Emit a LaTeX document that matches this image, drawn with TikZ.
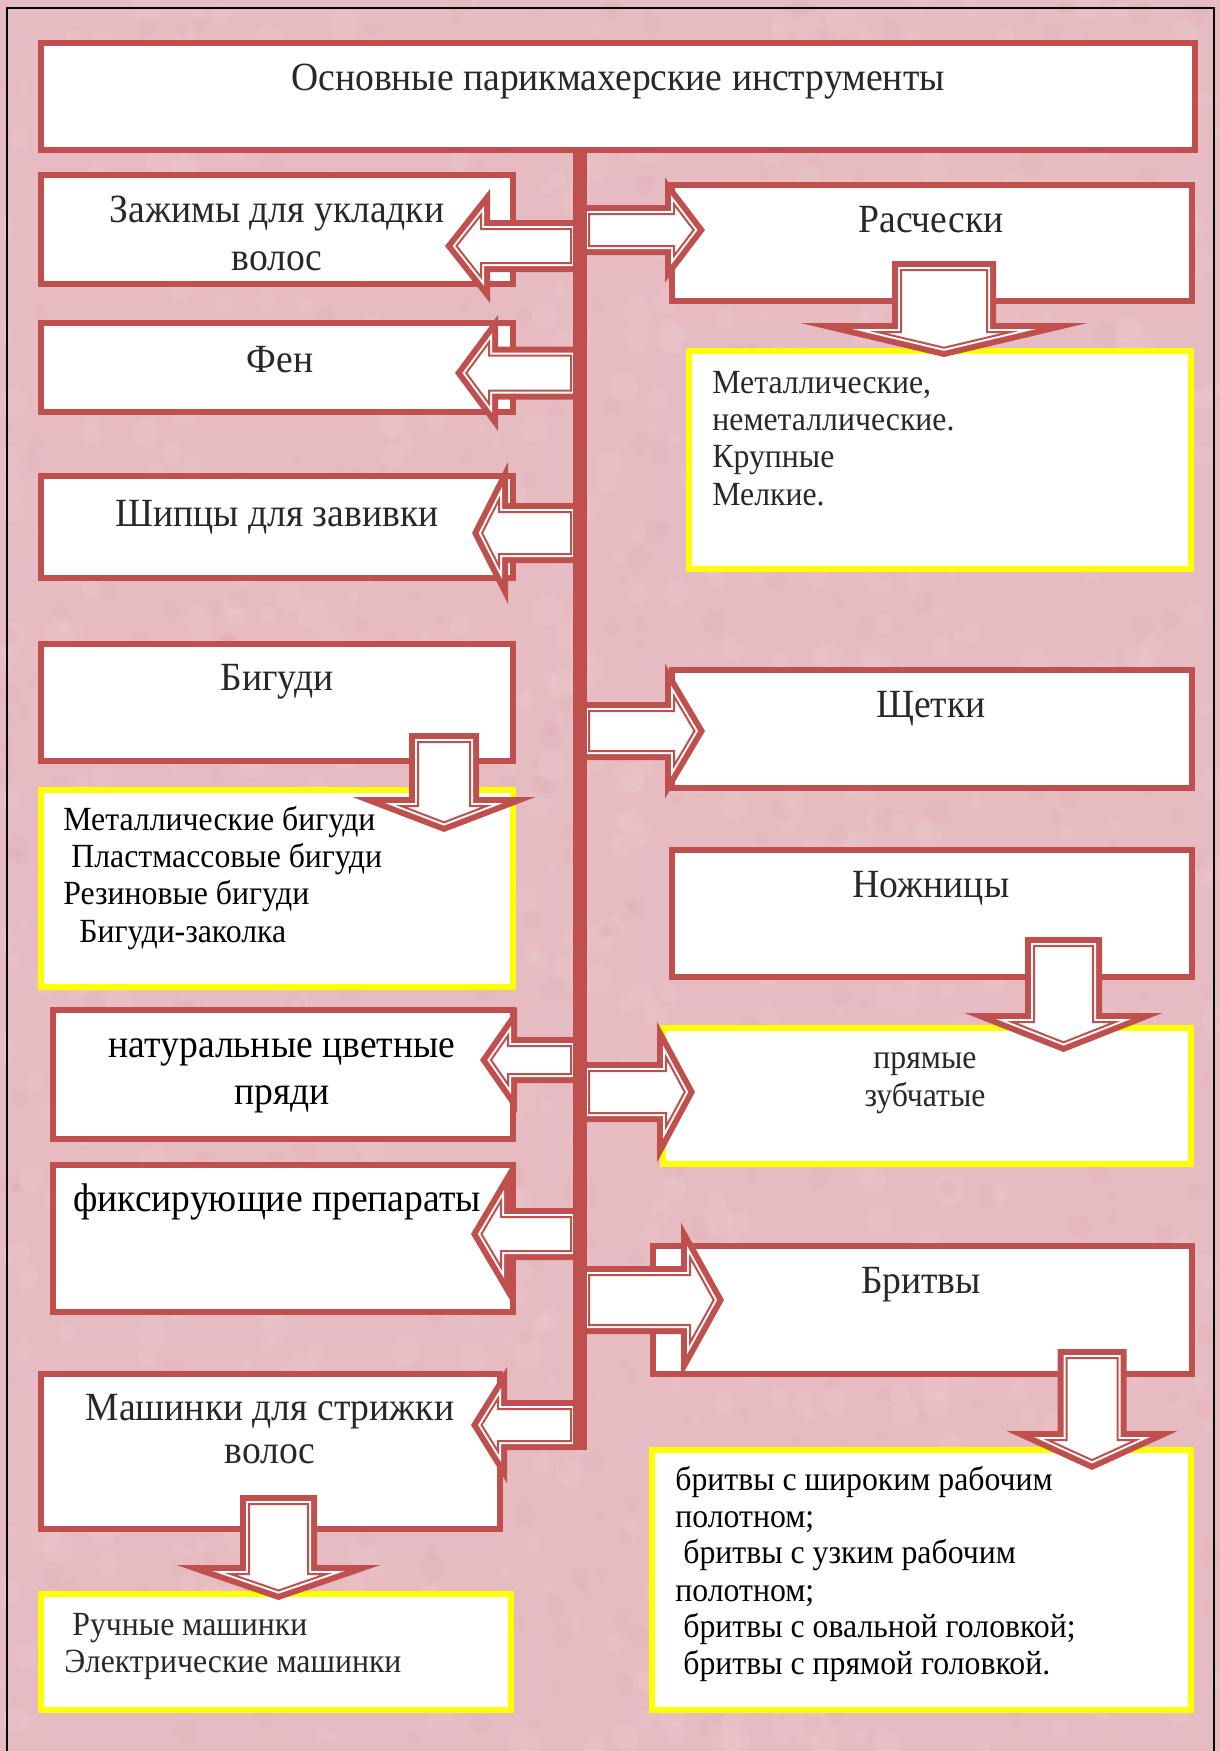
\documentclass[tikz,border=0pt]{standalone}
\usepackage{fontspec}
\setmainfont{Liberation Serif}[FakeStretch=0.94]
\definecolor{bred}{RGB}{192,80,77}
\definecolor{bgpink}{RGB}{230,188,194}
\definecolor{txtgray}{RGB}{40,40,40}
\definecolor{byellow}{RGB}{255,255,0}
\tikzset{
  redbox/.style={draw=bred, fill=white, line width=3pt, inner sep=0pt, outer sep=0pt},
  yelbox/.style={draw=byellow, fill=white, line width=3pt, inner sep=0pt, outer sep=0pt},
  txt/.style={font=\fontsize{20}{24}\selectfont, text=txtgray, inner sep=0pt, anchor=base},
  txtb/.style={txt, text=black},
  lst/.style={font=\fontsize{16.9}{20}\selectfont, text=txtgray, inner sep=0pt, anchor=base west},
  lstb/.style={lst, text=black},
  lstc/.style={lst, anchor=base},
}
% box: name, style, x1, y1, x2, y2 (outer edges, pixels)
\newcommand\RBox[6]{%
  \pgfmathsetmacro\bw{(#5-#3-6)*0.5}%
  \pgfmathsetmacro\bh{(#6-#4-6)*0.5}%
  \node[#2, minimum width=\bw pt, minimum height=\bh pt] (#1) at ({(#3+#5)/2},{(#4+#6)/2}) {};}
% horizontal block arrow path: T N P C s h d sign
\newcommand\HAcalc[8]{%
  \pgfmathsetmacro\qL{abs((#3)-(#2))}%
  \pgfmathsetmacro\qS{((#6)/100)/sqrt(((#6)/100)^2+(\qL/100)^2)}%
  \pgfmathsetmacro\qh{(#6)*(1-(#7)/\qL-(#7)/(\qL*\qS))}%
  \pgfmathsetmacro\qx{(#2)+(#8)*(#7)}%
  \pgfmathsetmacro\qtip{(#3)-(#8)*(#7)/\qS}%
  \pgfmathsetmacro\qT{(#1)+(#8)*(#7)}%
  \pgfmathsetmacro\qya{(#4)-(#5)+(#7)}%
  \pgfmathsetmacro\qyb{(#4)+(#5)-(#7)}%
  \pgfmathsetmacro\qyc{(#4)-\qh}%
  \pgfmathsetmacro\qyd{(#4)+\qh}%
  \edef\APath{(\qT,\qya) -- (\qx,\qya) -- (\qx,\qyc) -- (\qtip,#4) -- (\qx,\qyd) -- (\qx,\qyb) -- (\qT,\qyb) -- cycle}%
}
\newcommand\HArrow[7]{%
  \HAcalc{#1}{#2}{#3}{#4}{#5}{#6}{0}{#7}\fill[bred] \APath;
  \HAcalc{#1}{#2}{#3}{#4}{#5}{#6}{6}{#7}\fill[white] \APath;
  \HAcalc{#1}{#2}{#3}{#4}{#5}{#6}{9}{#7}\draw[bred, line width=1pt, line join=miter] \APath;
}
% vertical (down) block arrow path: xm w W t Hb ty d
\newcommand\VAcalc[7]{%
  \pgfmathsetmacro\qD{(#6)-(#5)}%
  \pgfmathsetmacro\qS{((#3)/100)/sqrt(((#3)/100)^2+(\qD/100)^2)}%
  \pgfmathsetmacro\qW{(#3)*(1-(#7)/\qD-(#7)/(\qD*\qS))}%
  \pgfmathsetmacro\qa{(#1)-(#2)+(#7)}%
  \pgfmathsetmacro\qb{(#1)+(#2)-(#7)}%
  \pgfmathsetmacro\qt{(#4)+(#7)}%
  \pgfmathsetmacro\qH{(#5)+(#7)}%
  \pgfmathsetmacro\qty{(#6)-(#7)/\qS}%
  \pgfmathsetmacro\qLL{(#1)-\qW}%
  \pgfmathsetmacro\qRR{(#1)+\qW}%
  \edef\APath{(\qa,\qt) -- (\qb,\qt) -- (\qb,\qH) -- (\qRR,\qH) -- (#1,\qty) -- (\qLL,\qH) -- (\qa,\qH) -- cycle}%
}
\newcommand\VArrow[6]{%
  \VAcalc{#1}{#2}{#3}{#4}{#5}{#6}{0}\fill[bred] \APath;
  \VAcalc{#1}{#2}{#3}{#4}{#5}{#6}{6}\fill[white] \APath;
  \VAcalc{#1}{#2}{#3}{#4}{#5}{#6}{9}\draw[bred, line width=1pt, line join=miter] \APath;
}
\begin{document}
\begin{tikzpicture}[x=0.5pt,y=-0.5pt]
\useasboundingbox (0,0) rectangle (1220,1751);
\fill[bgpink] (0,0) rectangle (1220,1751);
% subtle mottled background texture
\pgfmathsetseed{7}
\begin{scope}
\clip (0,0) rectangle (1220,1751);
\foreach \i in {1,...,900}{%
  \pgfmathsetmacro\rx{rnd*1220}\pgfmathsetmacro\ry{rnd*1751}\pgfmathsetmacro\rr{4+rnd*12}%
  \fill[white, opacity=0.05] (\rx,\ry) circle[radius=\rr];}
\foreach \i in {1,...,600}{%
  \pgfmathsetmacro\rx{rnd*1220}\pgfmathsetmacro\ry{rnd*1751}\pgfmathsetmacro\rr{3+rnd*9}%
  \fill[bred, opacity=0.035] (\rx,\ry) circle[radius=\rr];}
\end{scope}
\draw[line width=1.2pt] (7,1751) -- (7,8) -- (1214,8) -- (1214,1751);

% boxes
\RBox{title}{redbox}{38}{40}{1198}{153}
\RBox{zaj}{redbox}{38}{172}{516}{287}
\RBox{fen}{redbox}{38}{320}{516}{415}
\RBox{ship}{redbox}{38}{473}{516}{581}
\RBox{big}{redbox}{38}{641}{516}{764}
\RBox{biglist}{yelbox}{38}{787}{516}{990}
\RBox{nat}{redbox}{50}{1007}{516}{1142}
\RBox{fix}{redbox}{50}{1162}{516}{1315}
\RBox{mash}{redbox}{38}{1371}{503}{1532}
\RBox{mashlist}{yelbox}{38}{1591}{514}{1713}
\RBox{ras}{redbox}{669}{182}{1195}{304}
\RBox{raslist}{yelbox}{686}{348}{1194}{572}
\RBox{shch}{redbox}{669}{667}{1195}{791}
\RBox{nozh}{redbox}{669}{847}{1195}{980}
\RBox{nozhlist}{yelbox}{660}{1025}{1194}{1167}
\RBox{brit}{redbox}{650}{1243}{1195}{1377}
\RBox{britlist}{yelbox}{649}{1447}{1194}{1713}

% left arrows
\HArrow{580}{490}{445}{246}{26}{57}{-1}
\HArrow{580}{498}{455}{373}{26.5}{58}{-1}
\HArrow{580}{508}{472}{533}{30}{71}{-1}
\HArrow{580}{517}{480}{1060}{23}{53}{-1}
\HArrow{580}{510}{471}{1234}{26}{66}{-1}
\HArrow{580}{507}{471}{1425}{25}{58}{-1}
% right arrows
\HArrow{580}{665}{705}{230}{25}{52.5}{1}
\HArrow{580}{665}{705}{731}{29}{67.5}{1}
\HArrow{580}{657}{695}{1092}{30}{70.5}{1}
\HArrow{580}{681}{724}{1300}{34}{77.5}{1}
% spine
\fill[bred] (573,150) rectangle (587,1450);
\coordinate (spinetop) at (580,150);
% down arrows
\VArrow{944}{52}{143.5}{261}{323}{357}
\VArrow{444}{35}{91.5}{733}{797}{832}
\VArrow{1063.5}{38.5}{99}{937}{1013}{1052}
\VArrow{1092}{34.5}{85.5}{1349}{1431}{1470}
\VArrow{278.5}{38.5}{102}{1495}{1565}{1600}

% texts
\node[txt] (t0) at (618,90) {Основные парикмахерские инструменты};
\node[txt] (t1) at (277,222) {Зажимы для укладки};
\node[txt] (t2) at (277,270) {волос};
\node[txt] (t3) at (280,372) {Фен};
\node[txt] (t4) at (277,526) {Шипцы для завивки};
\node[txt] (t5) at (277,690) {Бигуди};
\node[lstb] (t6) at (63,830) {Металлические бигуди};
\node[lstb] (t7) at (71,867) {Пластмассовые бигуди};
\node[lstb] (t8) at (63,904) {Резиновые бигуди};
\node[lstb] (t9) at (79,942) {Бигуди-заколка};
\node[txtb] (t10) at (282,1057) {натуральные цветные};
\node[txtb] (t11) at (282,1104) {пряди};
\node[txtb] (t12) at (277,1211) {фиксирующие препараты};
\node[txt] (t13) at (270,1420) {Машинки для стрижки};
\node[txt] (t14) at (270,1463) {волос};
\node[lst] (t15) at (72,1635) {Ручные машинки};
\node[lst] (t16) at (64,1672) {Электрические машинки};
\node[txt] (t17) at (931,232) {Расчески};
\node[lst] (t18) at (712,393) {Металлические,};
\node[lst] (t19) at (712,430) {неметаллические.};
\node[lst] (t20) at (712,467) {Крупные};
\node[lst] (t21) at (712,505) {Мелкие.};
\node[txt] (t22) at (931,717) {Щетки};
\node[txt] (t23) at (931,897) {Ножницы};
\node[lstc] (t24) at (925,1068) {прямые};
\node[lstc] (t25) at (925,1106) {зубчатые};
\node[txt] (t26) at (921,1293) {Бритвы};
\node[lstb] (t27) at (675,1490) {бритвы с широким рабочим};
\node[lstb] (t28) at (675,1527) {полотном;};
\node[lstb] (t29) at (683,1563) {бритвы с узким рабочим};
\node[lstb] (t30) at (675,1601) {полотном;};
\node[lstb] (t31) at (683,1637) {бритвы с овальной головкой;};
\node[lstb] (t32) at (683,1674) {бритвы с прямой головкой.};
\end{tikzpicture}
\end{document}
